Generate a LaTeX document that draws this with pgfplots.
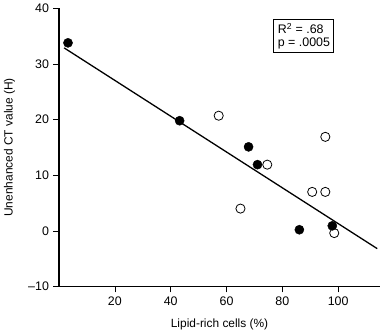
\documentclass[border=0pt]{standalone}
\usepackage{pgfplots}
\pgfplotsset{compat=1.18}
\usepackage{fontspec}
\setmainfont{Liberation Sans}
\begin{document}
\fontsize{12}{14}\selectfont
\begin{tikzpicture}
\begin{axis}[
  scale only axis,
  width=322bp, height=279bp,
  xmin=0, xmax=115, ymin=-10, ymax=40,
  axis x line*=bottom, axis y line*=left,
  axis line style={line width=1.2bp},
  xtick={20,40,60,80,100}, ytick={-10,0,10,20,30,40},
  yticklabels={\textendash10,0,10,20,30,40},
  tick align=outside, major tick length=6bp,
  tick style={line width=0.6bp, black},
  /pgf/number format/assume math mode=true,
  ticklabel style={font=\fontsize{12.5}{14}\selectfont},
  xlabel={Lipid-rich cells (\%)},
  ylabel={Unenhanced CT value (H)},
  label style={font=\fontsize{12}{14}\selectfont},
  xlabel style={yshift=-5bp},
  ylabel style={yshift=5bp},
  clip=false,
]
\addplot[no marks, line width=1.3bp] coordinates {(1.8,32.9) (114,-3.2)};
\addplot[only marks, mark=*, mark size=4.6bp, mark options={fill=black, draw=black}] coordinates {
(3.2,33.8) (43.2,19.8) (67.9,15.1) (71.1,11.9) (86.1,0.2) (97.9,0.9)};
\addplot[only marks, mark=o, mark size=4.6bp, mark options={fill=white, draw=black, line width=0.8bp}] coordinates {
(57.2,20.7) (74.6,11.9) (95.4,16.9) (90.7,7.0) (95.4,7.0) (65,4.0) (98.6,-0.4)};
\node[draw, line width=1bp, anchor=north west, align=left, inner xsep=4bp, inner ysep=3bp, font=\fontsize{12.5}{13.5}\selectfont]
  at (axis cs:76.8,38.0) {R\textsuperscript{2} = .68\\p = .0005};
\end{axis}
\path ([xshift=-58bp,yshift=-49bp]current axis.south west) rectangle ([xshift=5bp,yshift=7bp]current axis.north east);
\end{tikzpicture}
\end{document}
